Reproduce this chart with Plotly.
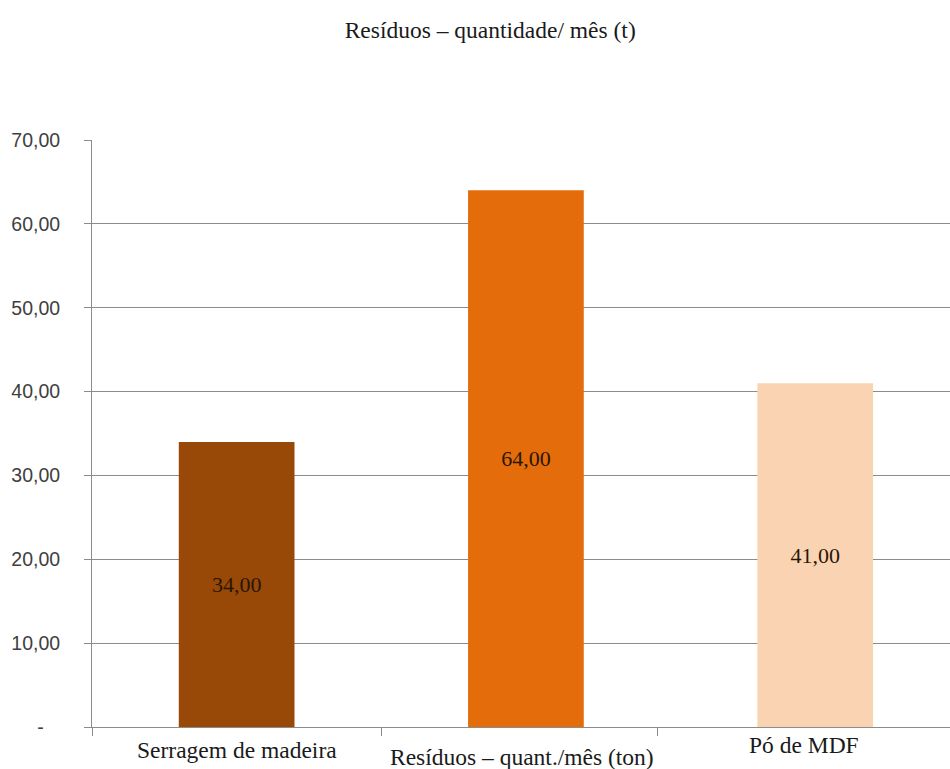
import plotly.graph_objects as go

# Monthly waste quantities (tonnes)
categories = ["Serragem de madeira", "Resíduos – quant./mês (ton)", "Pó de MDF"]
values = [34.00, 64.00, 41.00]
bar_colors = ["#984807", "#E46C0A", "#FAD4B2"]
label_text = ["34,00", "64,00", "41,00"]

y_tick_vals = [0, 10, 20, 30, 40, 50, 60, 70]
y_tick_text = ["-\u00a0\u00a0\u00a0", "10,00", "20,00", "30,00", "40,00", "50,00", "60,00", "70,00"]

# per-label nudges for the category captions under the axis
cat_xshift = [0, -4, -11]
cat_yshift = [-23, -30, -18]

x_pos = list(range(len(categories)))

fig = go.Figure()
fig.add_trace(go.Bar(
    x=x_pos,
    y=values,
    width=0.40,
    marker=dict(color=bar_colors, line=dict(width=0)),
    text=label_text,
    textposition="inside",
    insidetextanchor="middle",
    textangle=0,
    textfont=dict(family="Liberation Serif", size=22, color="#2a1605"),
    hoverinfo="skip",
))

for i, name in enumerate(categories):
    fig.add_annotation(
        x=x_pos[i], y=0, xref="x", yref="y",
        text=name, showarrow=False,
        xanchor="center", yanchor="middle",
        xshift=cat_xshift[i], yshift=cat_yshift[i],
        font=dict(family="Liberation Serif", size=23.5, color="#1a1a1a"),
    )

fig.update_layout(
    width=950, height=769,
    margin=dict(l=92, r=0, t=140, b=42),
    paper_bgcolor="white",
    plot_bgcolor="white",
    showlegend=False,
    title=dict(
        text="Resíduos – quantidade/ mês (t)",
        x=0.516, xanchor="center",
        y=0.961, yanchor="middle", yref="container",
        font=dict(family="Liberation Serif", size=23.5, color="#1a1a1a"),
    ),
    xaxis=dict(
        range=[-0.5, 2.466],
        tickmode="array",
        tickvals=[-0.5, 0.5, 1.455],
        ticktext=["", "", ""],
        ticks="outside", ticklen=8, tickcolor="#8c8c8c", tickwidth=1,
        showgrid=False, zeroline=False,
        showline=True, linecolor="#8c8c8c", linewidth=1,
        fixedrange=True,
    ),
    yaxis=dict(
        range=[0, 70],
        tickmode="array",
        tickvals=y_tick_vals,
        ticktext=y_tick_text,
        ticks="outside", ticklen=7, tickcolor="#8c8c8c", tickwidth=1,
        ticklabelstandoff=20,
        tickfont=dict(family="Liberation Sans", size=19.5, color="#404040"),
        showgrid=True, gridcolor="#8c8c8c", gridwidth=1,
        zeroline=False,
        showline=True, linecolor="#8c8c8c", linewidth=1,
        fixedrange=True,
    ),
)

fig.write_html("out.html")
